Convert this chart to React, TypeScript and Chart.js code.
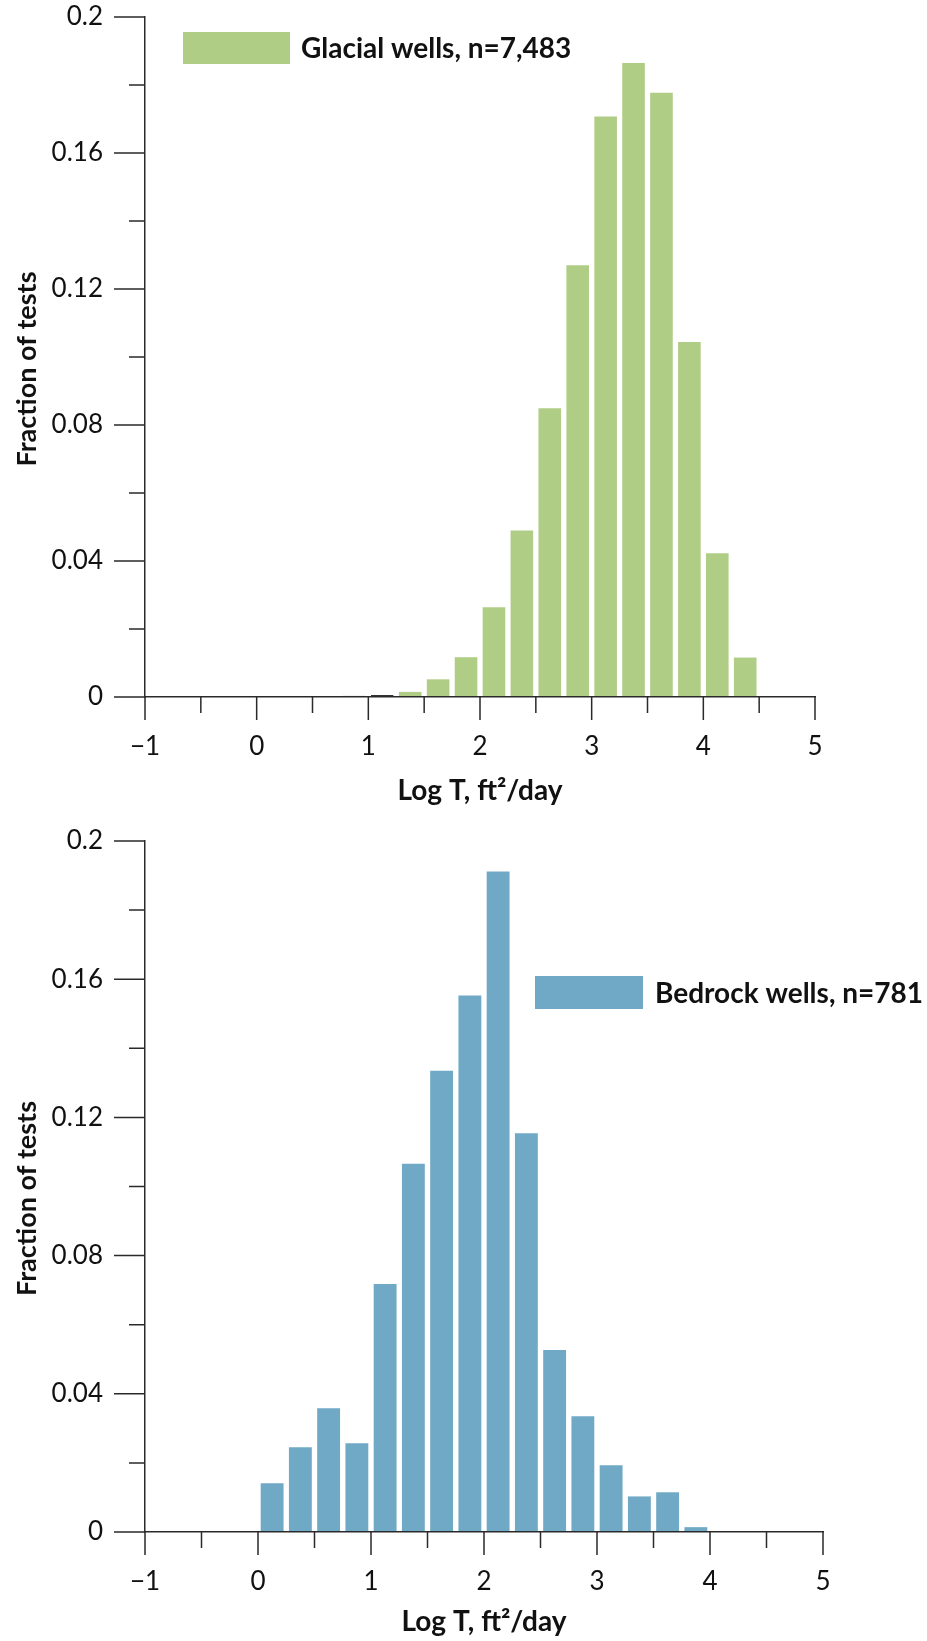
import React, { useEffect, useRef } from 'react';
import { Chart, registerables } from 'chart.js';

Chart.register(...registerables);

const FONT = 'Lato, "Open Sans", sans-serif';
const AXIS_COLOR = '#2a2a2a';
const TEXT_COLOR = '#111111';

// ---- axis ticks ----
const xTickValues = [-1, 0, 1, 2, 3, 4, 5];
const xTickLabels = ['\u22121', '0', '1', '2', '3', '4', '5'];
const xMinorTicks = [-0.5, 0.5, 1.5, 2.5, 3.5, 4.5];
const yTickValues = [0, 0.04, 0.08, 0.12, 0.16, 0.2];
const yTickLabels = ['0', '0.04', '0.08', '0.12', '0.16', '0.2'];
const yMinorTicks = [0.02, 0.06, 0.1, 0.14, 0.18];

// ---- glacial wells (bin centers of Log T, fraction of tests) ----
const glacialLabel = 'Glacial wells, n=7,483';
const glacialBins = [0.875, 1.125, 1.375, 1.625, 1.875, 2.125, 2.375, 2.625, 2.875, 3.125, 3.375, 3.625, 3.875, 4.125, 4.375];
const glacialValues = [0.0004, 0.0006, 0.0015, 0.0052, 0.0117, 0.0264, 0.049, 0.0849, 0.127, 0.1707, 0.1865, 0.1777, 0.1044, 0.0423, 0.0116];

// ---- bedrock wells ----
const bedrockLabel = 'Bedrock wells, n=781';
const bedrockBins = [0.125, 0.375, 0.625, 0.875, 1.125, 1.375, 1.625, 1.875, 2.125, 2.375, 2.625, 2.875, 3.125, 3.375, 3.625, 3.875];
const bedrockValues = [0.0141, 0.0245, 0.0358, 0.0257, 0.0718, 0.1066, 0.1335, 0.1553, 0.1912, 0.1154, 0.0527, 0.0335, 0.0193, 0.0103, 0.0115, 0.0014];

const xTitle = 'Log T, ft\u00B2/day';
const yTitle = 'Fraction of tests';

const decorPlugin = {
  id: 'decor',
  afterDraw(chart: any, _args: any, opts: any) {
    const { ctx, chartArea, scales } = chart;
    const xs = scales.x;
    const ys = scales.y;
    ctx.save();
    ctx.strokeStyle = AXIS_COLOR;
    ctx.lineWidth = 1.5;
    ctx.beginPath();
    yTickValues.forEach((v) => {
      const p = ys.getPixelForValue(v);
      ctx.moveTo(chartArea.left - 31, p);
      ctx.lineTo(chartArea.left, p);
    });
    yMinorTicks.forEach((v) => {
      const p = ys.getPixelForValue(v);
      ctx.moveTo(chartArea.left - 16, p);
      ctx.lineTo(chartArea.left, p);
    });
    xTickValues.forEach((v) => {
      const p = xs.getPixelForValue(v);
      ctx.moveTo(p, chartArea.bottom);
      ctx.lineTo(p, chartArea.bottom + 23);
    });
    xMinorTicks.forEach((v) => {
      const p = xs.getPixelForValue(v);
      ctx.moveTo(p, chartArea.bottom);
      ctx.lineTo(p, chartArea.bottom + 16);
    });
    ctx.stroke();

    // y-axis title (rotated)
    ctx.fillStyle = TEXT_COLOR;
    ctx.font = `bold 27px ${FONT}`;
    ctx.textAlign = 'center';
    ctx.textBaseline = 'middle';
    ctx.save();
    ctx.translate(opts.yTitleX, (chartArea.top + chartArea.bottom) / 2 + opts.yTitleShift);
    ctx.rotate(-Math.PI / 2);
    ctx.fillText(yTitle, 0, 0);
    ctx.restore();

    // legend (inside plot)
    const ds = chart.data.datasets[0];
    const lg = opts.legend;
    ctx.fillStyle = opts.color;
    ctx.fillRect(lg.x, lg.y, lg.w, lg.h);
    ctx.fillStyle = TEXT_COLOR;
    ctx.font = `bold ${lg.fontSize}px ${FONT}`;
    ctx.textBaseline = 'middle';
    ctx.textAlign = 'left';
    ctx.fillText(ds.label, lg.textX, lg.y + lg.h / 2 + 1);
    ctx.restore();
  },
};

type HistProps = {
  bins: number[];
  values: number[];
  label: string;
  color: string;
  darkFirst: number;
  width: number;
  height: number;
  padTop: number;
  padRight: number;
  yAxisWidth: number;
  xAxisHeight: number;
  legend: { x: number; y: number; w: number; h: number; textX: number; fontSize: number };
};

function HistChart(props: HistProps) {
  const ref = useRef<HTMLCanvasElement | null>(null);
  useEffect(() => {
    if (!ref.current) return;
    const { bins, values, label, color, darkFirst } = props;
    const chart = new Chart(ref.current, {
      type: 'bar',
      data: {
        datasets: [
          {
            label,
            data: bins.map((b, i) => ({ x: b, y: values[i] })),
            backgroundColor: bins.map((_, i) => (i < darkFirst && i === 0 ? '#333333' : color)),
            borderColor: bins.map((_, i) => (i < darkFirst ? '#333333' : color)),
            borderWidth: bins.map((_, i) => (i < darkFirst ? 1 : 0)),
            borderSkipped: false,
            barPercentage: 0.81,
            categoryPercentage: 1,
          } as any,
        ],
      },
      options: {
        responsive: false,
        animation: false,
        devicePixelRatio: 1,
        layout: { padding: { top: props.padTop, right: props.padRight, bottom: 0, left: 0 } },
        plugins: {
          legend: { display: false },
          tooltip: { enabled: false },
          decor: { legend: props.legend, color, yTitleX: 27, yTitleShift: 12 },
        } as any,
        scales: {
          x: {
            type: 'linear',
            min: -1,
            max: 5,
            offset: false,
            grid: {
              display: true,
              drawOnChartArea: false,
              drawTicks: true,
              tickLength: 34,
              tickColor: 'rgba(0,0,0,0)',
              offset: false,
            },
            border: { display: true, color: AXIS_COLOR, width: 1.5, z: 1 },
            afterBuildTicks: (scale: any) => {
              scale.ticks = xTickValues.map((v) => ({ value: v }));
            },
            afterFit: (scale: any) => {
              scale.height = props.xAxisHeight;
            },
            ticks: {
              autoSkip: false,
              maxRotation: 0,
              padding: 0,
              color: TEXT_COLOR,
              font: { family: FONT, size: 26 },
              callback: (_v: any, i: number) => xTickLabels[i],
            },
            title: {
              display: true,
              text: xTitle,
              color: TEXT_COLOR,
              font: { family: FONT, size: 28, weight: 'bold' },
              padding: { top: 0, bottom: 2 },
            },
          },
          y: {
            type: 'linear',
            min: 0,
            max: 0.2,
            grid: {
              display: true,
              drawOnChartArea: false,
              drawTicks: true,
              tickLength: 42,
              tickColor: 'rgba(0,0,0,0)',
            },
            border: { display: true, color: AXIS_COLOR, width: 1.5, z: 1 },
            afterBuildTicks: (scale: any) => {
              scale.ticks = yTickValues.map((v) => ({ value: v }));
            },
            afterFit: (scale: any) => {
              scale.width = props.yAxisWidth;
            },
            ticks: {
              autoSkip: false,
              padding: 0,
              color: TEXT_COLOR,
              font: { family: FONT, size: 26 },
              callback: (_v: any, i: number) => yTickLabels[i],
            },
            title: { display: false },
          },
        },
      } as any,
      plugins: [decorPlugin as any],
    });
    return () => chart.destroy();
  }, []);
  return (
    <canvas
      ref={ref}
      width={props.width}
      height={props.height}
      style={{ display: 'block', width: props.width, height: props.height }}
    />
  );
}

export default function App() {
  return (
    <div style={{ position: 'absolute', left: 0, top: 0, width: 927, height: 1641, background: '#ffffff' }}>
      <HistChart
        bins={glacialBins}
        values={glacialValues}
        label={glacialLabel}
        color="#b0cd86"
        darkFirst={2}
        width={927}
        height={810}
        padTop={17}
        padRight={112}
        yAxisWidth={145}
        xAxisHeight={113}
        legend={{ x: 183, y: 32, w: 107, h: 32, textX: 301, fontSize: 28 }}
      />
      <HistChart
        bins={bedrockBins}
        values={bedrockValues}
        label={bedrockLabel}
        color="#6fa9c5"
        darkFirst={0}
        width={927}
        height={831}
        padTop={31}
        padRight={104}
        yAxisWidth={145}
        xAxisHeight={109}
        legend={{ x: 535, y: 166, w: 108, h: 33, textX: 655, fontSize: 28 }}
      />
    </div>
  );
}
